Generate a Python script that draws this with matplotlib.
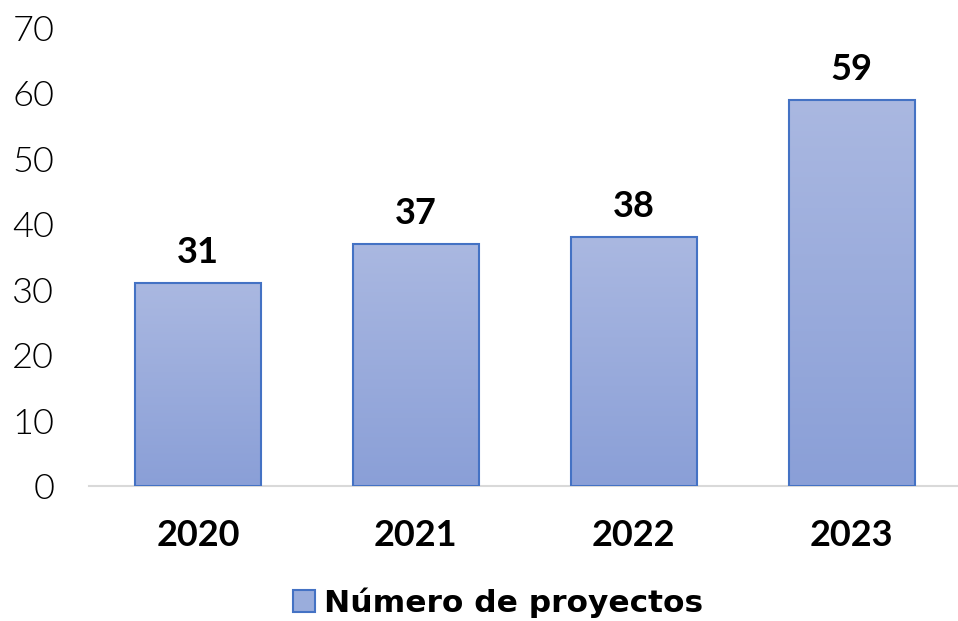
import numpy as np
import matplotlib.pyplot as plt
from matplotlib.patches import Patch
from matplotlib.colors import LinearSegmentedColormap

# datos
years = ['2020', '2021', '2022', '2023']
proyectos = [31, 37, 38, 59]
serie = 'Número de proyectos'

plt.rcParams['font.family'] = ['Lato', 'DejaVu Sans']

fig = plt.figure(figsize=(9.58, 6.21), dpi=100)
ax = fig.add_axes([0.0929, 0.2174, 0.910, 0.7375])

x = np.arange(len(years))
bars = ax.bar(x, proyectos, width=0.58, color='none', edgecolor='#4472c4', linewidth=1.5, zorder=3)

# degradado vertical dentro de cada barra
cmap = LinearSegmentedColormap.from_list('grad', ['#8a9fd7', '#aab8e1'])
grad = np.linspace(0, 1, 256).reshape(-1, 1)
for b in bars:
    x0, y0 = b.get_x(), b.get_y()
    im = ax.imshow(grad, cmap=cmap, origin='lower', aspect='auto',
                   extent=[x0, x0 + b.get_width(), y0, y0 + b.get_height()], zorder=2)
    im.set_clip_path(b)

for xi, v in zip(x, proyectos):
    ax.annotate(str(v), (xi, v), xytext=(0, 10), textcoords='offset points',
                ha='center', va='bottom', fontsize=26, fontweight='bold')

ax.set_xlim(-0.5, 3.5)
ax.set_ylim(0, 70)
ax.set_yticks(range(0, 71, 10))
ax.set_xticks(x)
ax.set_xticklabels(years, fontsize=26, fontweight='bold')
ax.set_yticklabels([str(t) for t in range(0, 71, 10)], fontsize=26, fontweight=300)
ax.tick_params(axis='y', length=0, pad=25)
ax.tick_params(axis='x', length=0, pad=24)
for s in ['top', 'right', 'left']:
    ax.spines[s].set_visible(False)
ax.spines['bottom'].set_color('#d9d9d9')
ax.spines['bottom'].set_linewidth(1.5)

handle = Patch(facecolor='#9aaddc', edgecolor='#4472c4', linewidth=1.5)
fig.legend([handle], [serie], loc='center', bbox_to_anchor=(0.52, 0.03), frameon=False,
           prop={'family': 'DejaVu Sans', 'size': 22.5, 'weight': 'bold'},
           handlelength=0.7, handleheight=0.7, handletextpad=0.3)

fig.savefig('out.png', dpi=100)
